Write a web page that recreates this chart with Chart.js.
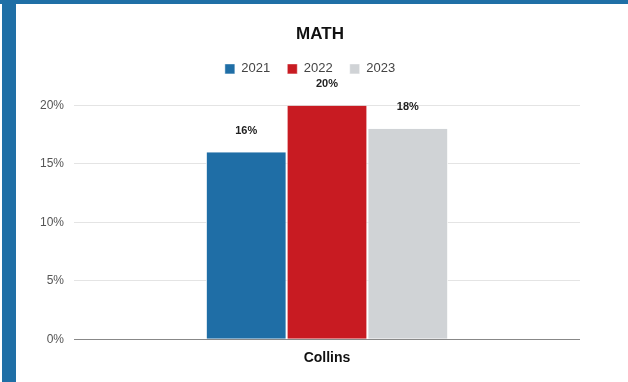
<!DOCTYPE html>
<html>
<head>
<meta charset="utf-8">
<script src="https://cdn.jsdelivr.net/npm/chart.js@4"></script>
<style>
    html, body { margin: 0; padding: 0; background: #fff; }
    body { width: 628px; height: 382px; overflow: hidden; position: relative; }
    .frame-left { position: absolute; left: 2px; top: 0; width: 14px; height: 382px; background: #1f6fa6; }
    .frame-top { position: absolute; left: 0; top: 0; width: 628px; height: 4px; background: #1f6fa6; }
    .chart-box { position: absolute; left: 16px; top: 4px; width: 612px; height: 378px; }
</style>
</head>
<body>
<div class="frame-left"></div>
<div class="frame-top"></div>
<div class="chart-box"><canvas id="mathChart"></canvas></div>
<script>
// DATA
const categories = ['Collins'];
const years = ['2021', '2022', '2023'];
const values2021 = [16];
const values2022 = [20];
const values2023 = [18];
const yTicks = [0, 5, 10, 15, 20];
const colors = ['#1f6ea6', '#c81b22', '#d0d3d6'];

const FONT = '"Liberation Sans", Arial, sans-serif';

// value labels above bars
const barLabels = {
    id: 'barLabels',
    afterDatasetsDraw(chart) {
        const ctx = chart.ctx;
        ctx.save();
        ctx.font = 'bold 11px ' + FONT;
        ctx.fillStyle = '#222';
        ctx.textAlign = 'center';
        ctx.textBaseline = 'bottom';
        chart.data.datasets.forEach((ds, i) => {
            chart.getDatasetMeta(i).data.forEach((bar, j) => {
                ctx.fillText(ds.data[j] + '%', bar.x, bar.y - 16);
            });
        });
        ctx.restore();
    }
};

// extra room under legend, and re-center title / legend like the original
const headerTweak = {
    id: 'headerTweak',
    beforeInit(chart) {
        const legend = chart.legend;
        const origFit = legend.fit;
        legend.fit = function () {
            origFit.call(this);
            this.height += 20;
        };
    },
    afterLayout(chart) {
        chart.titleBlock.left = 0;
        chart.titleBlock.right = chart.width - 4;
        chart.legend.left = 0;
        chart.legend.right = chart.width - 24;
    }
};

const ctx = document.getElementById('mathChart').getContext('2d');
const seriesValues = [values2021, values2022, values2023];

new Chart(ctx, {
    type: 'bar',
    data: {
        labels: categories,
        datasets: years.map((y, i) => ({
            label: y,
            data: seriesValues[i],
            backgroundColor: colors[i],
            borderColor: '#fff',
            borderWidth: { left: 1, right: 1 },
            borderSkipped: false,
            barPercentage: 1,
            categoryPercentage: 0.479
        }))
    },
    options: {
        responsive: true,
        maintainAspectRatio: false,
        animation: false,
        layout: { padding: { left: 14, right: 48, top: 16, bottom: 12 } },
        plugins: {
            title: {
                display: true,
                text: 'MATH',
                color: '#111',
                font: { family: FONT, size: 17, weight: 'bold' },
                padding: { top: 4, bottom: 1 }
            },
            legend: {
                display: true,
                labels: {
                    boxWidth: 10,
                    boxHeight: 10,
                    padding: 17,
                    color: '#444',
                    font: { family: FONT, size: 13 }
                }
            },
            tooltip: { enabled: false }
        },
        scales: {
            y: {
                min: 0,
                max: 20,
                afterBuildTicks: axis => { axis.ticks = yTicks.map(v => ({ value: v })); },
                ticks: {
                    callback: v => v + '%',
                    color: '#555',
                    padding: 10,
                    font: { family: FONT, size: 12 }
                },
                grid: {
                    color: c => c.tick.value === 0 ? '#888' : '#e4e4e4',
                    drawTicks: false
                },
                border: { display: false }
            },
            x: {
                ticks: {
                    color: '#111',
                    padding: 3,
                    font: { family: FONT, size: 14, weight: 'bold' }
                },
                grid: { display: false },
                border: { display: false }
            }
        }
    },
    plugins: [barLabels, headerTweak]
});
</script>
</body>
</html>
